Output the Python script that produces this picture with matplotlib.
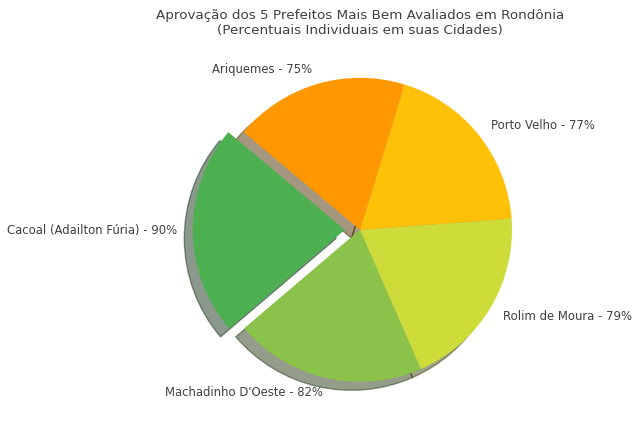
import matplotlib
matplotlib.use('Agg')
import matplotlib.pyplot as plt

# Data
labels = ['Cacoal (Adailton Fúria) - 90%', "Machadinho D'Oeste - 82%",
          'Rolim de Moura - 79%', 'Porto Velho - 77%', 'Ariquemes - 75%']
approval = [90, 82, 79, 77, 75]
colors = ['#4CAF50', '#8BC34A', '#CDDC39', '#FFC107', '#FF9800']
explode = [0.1, 0, 0, 0, 0]

text_color = '#404040'

fig = plt.figure(figsize=(6.4, 4.28), dpi=100)
ax = fig.add_axes([0.2656, 0.019, 0.59375, 0.888])
ax.pie(approval, labels=labels, colors=colors, explode=explode,
       startangle=140, shadow={'ox': -0.04, 'oy': -0.04},
       textprops={'fontsize': 8.4, 'color': text_color})
ax.set_aspect('equal')
ax.set_title('Aprovação dos 5 Prefeitos Mais Bem Avaliados em Rondônia\n(Percentuais Individuais em suas Cidades)',
             fontsize=9.7, color=text_color, pad=4)

plt.savefig('out.png', dpi=100, facecolor='white')
plt.close()
